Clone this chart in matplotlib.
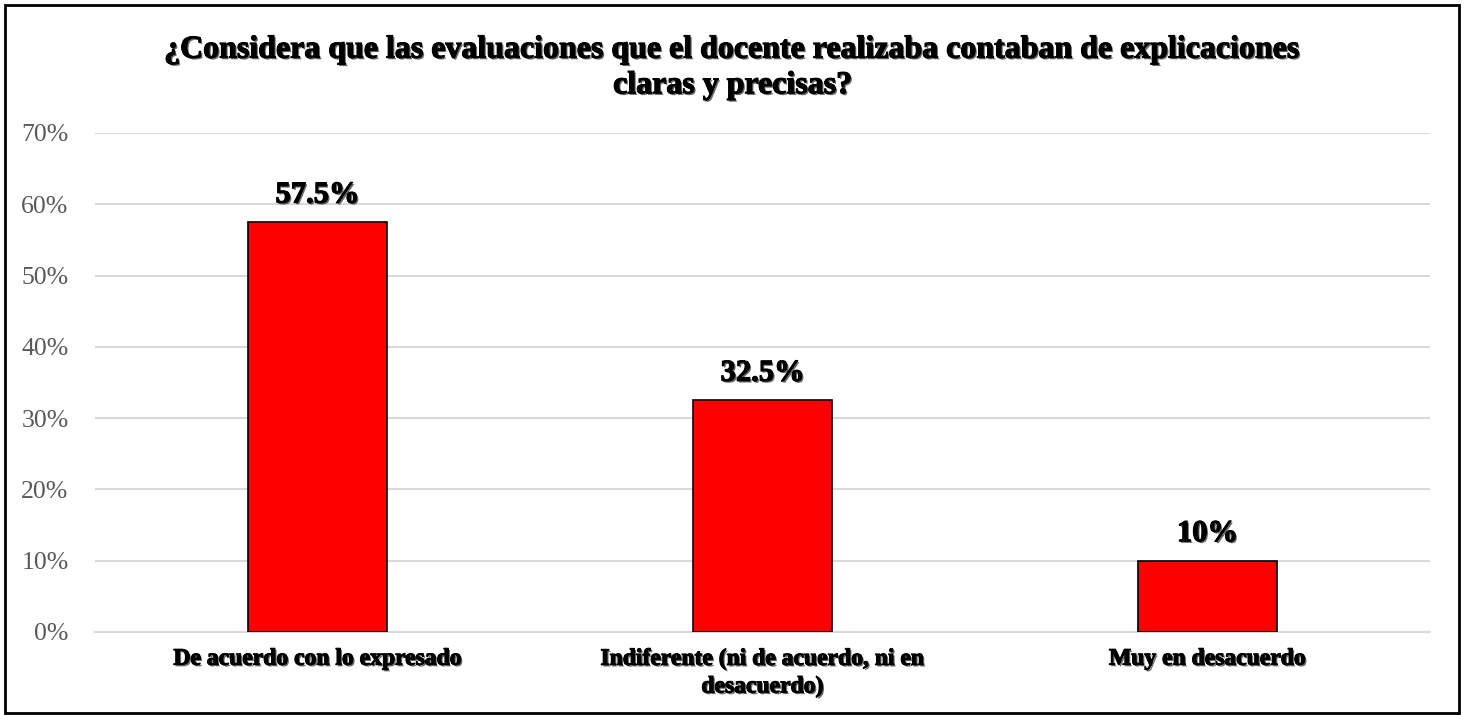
import matplotlib
matplotlib.use("Agg")
import matplotlib.pyplot as plt
import matplotlib.patheffects as pe
from matplotlib.patches import Rectangle
from matplotlib.ticker import PercentFormatter

# data
categories = ["De acuerdo con lo expresado",
              "Indiferente (ni de acuerdo, ni en\ndesacuerdo)",
              "Muy en desacuerdo"]
values = [57.5, 32.5, 10.0]
value_labels = ["57.5%", "32.5%", "10%"]
yticks = [0, 10, 20, 30, 40, 50, 60, 70]
title = ("¿Considera que las evaluaciones que el docente realizaba contaban de explicaciones\n"
         "claras y precisas?")

plt.rcParams["font.family"] = ["Liberation Serif", "DejaVu Serif"]

shadow = [pe.withSimplePatchShadow(offset=(1.2, -1.2), shadow_rgbFace="#444444", alpha=0.8),
          pe.withStroke(linewidth=0.8, foreground="black")]

fig = plt.figure(figsize=(14.66, 7.15), dpi=100)
ax = fig.add_axes([0.0648, 0.1161, 0.9106, 0.6979])

x = range(len(categories))
ax.bar(x, values, width=0.312, color="#FF0000", edgecolor="black", linewidth=1.2, zorder=3)

for xi, v, lab in zip(x, values, value_labels):
    ax.annotate(lab, (xi, v), xytext=(0, 9), textcoords="offset points",
                ha="center", va="bottom", fontsize=22, fontweight="bold",
                path_effects=shadow, zorder=4)

ax.set_xlim(-0.5, 2.5)
ax.set_ylim(0, 70)
ax.set_yticks(yticks)
ax.yaxis.set_major_formatter(PercentFormatter(decimals=0))
ax.grid(True, axis="y", color="#d9d9d9", linewidth=1.5, zorder=0)
ax.set_axisbelow(True)
for s in ["top", "right", "left"]:
    ax.spines[s].set_visible(False)
ax.spines["bottom"].set_color("#d9d9d9")
ax.spines["bottom"].set_linewidth(1.5)

ax.set_xticks(list(x))
ax.set_xticklabels(categories, fontsize=17, fontweight="bold", linespacing=1.4)
for t in ax.get_xticklabels():
    t.set_path_effects(shadow)
ax.tick_params(axis="x", length=0, pad=12)
ax.tick_params(axis="y", length=0, labelsize=18.5, labelcolor="#595959", pad=19)

fig.text(0.5, 0.905, title, ha="center", va="center", fontsize=23,
         fontweight="bold", linespacing=1.3, path_effects=shadow)

# outer frame around the whole chart
fig.patches.append(Rectangle((5 / 1466, 2 / 715), 1454 / 1466, 708 / 715,
                             transform=fig.transFigure, fill=False,
                             edgecolor="black", linewidth=2))

fig.savefig("out.png", dpi=100)
